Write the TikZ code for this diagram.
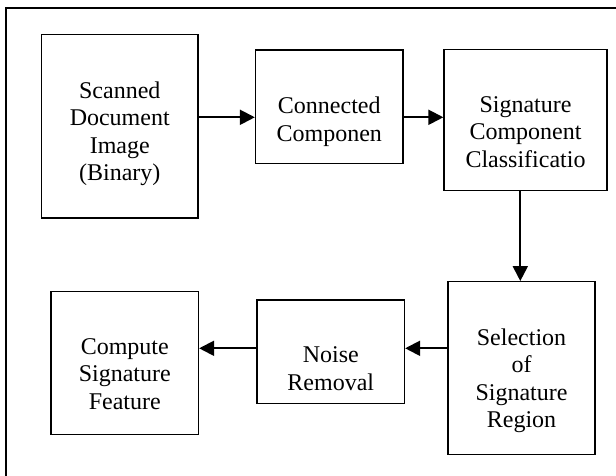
\documentclass[tikz,border=0pt]{standalone}
\usepackage{fontspec}
\setmainfont{Liberation Serif}
\usetikzlibrary{arrows.meta}
\begin{document}
\begin{tikzpicture}[x=1pt,y=1pt,
  box/.style={draw, line width=1.3pt, rectangle, inner sep=0pt},
  txt/.style={anchor=north, align=center, inner sep=0pt, font=\fontsize{24}{27.5}\selectfont},
  arr/.style={line width=2pt, -{Triangle[length=15pt,width=15pt]}}]
\useasboundingbox (0,0) rectangle (616,475);
% outer frame (right and bottom sides lie beyond the picture)
\coordinate (fa) at (6,-10);
\coordinate (fb) at (6,467);
\coordinate (fc) at (630,467);
\draw[line width=1.3pt] (fa) -- (fb) -- (fc);
% boxes
\node[box, minimum width=156.5pt, minimum height=183.3pt] (b1) at (119.75,348.65) {};
\node[box, minimum width=147.5pt, minimum height=113.5pt] (b2) at (329.25,368.25) {};
\node[box, minimum width=163pt, minimum height=141pt] (b3) at (525.5,355) {};
\node[box, minimum width=147pt, minimum height=173pt] (b4) at (521.5,106.8) {};
\node[box, minimum width=147.5pt, minimum height=103.3pt] (b5) at (330.75,123.35) {};
\node[box, minimum width=147.5pt, minimum height=143.4pt] (b6) at (124.75,112) {};
% texts
\node[txt] (t1) at ([yshift=-47.3pt]b1.north) {Scanned\\Document\\Image\\(Binary)};
\node[txt] (t2) at ([yshift=-47.3pt]b2.north) {Connected\\Componen};
\node[txt] (t3) at ([yshift=-47.3pt]b3.north) {Signature\\Component\\Classificatio};
\node[txt] (t4) at ([yshift=-47.3pt]b4.north) {Selection\\of\\Signature\\Region};
\node[txt] (t5) at ([yshift=-47.3pt]b5.north) {Noise\\Removal};
\node[txt] (t6) at ([yshift=-47.3pt]b6.north) {Compute\\Signature\\Feature};
% arrow levels
\coordinate (ra) at (0,357.7);
\coordinate (rb) at (0,126.7);
\coordinate (rc) at (520.3,0);
\draw[arr] (b1.east |- ra) -- (b2.west |- ra);
\draw[arr] (b2.east |- ra) -- (b3.west |- ra);
\draw[arr] (b3.south -| rc) -- (b4.north -| rc);
\draw[arr] (b4.west |- rb) -- (b5.east |- rb);
\draw[arr] (b5.west |- rb) -- (b6.east |- rb);
\end{tikzpicture}
\end{document}
